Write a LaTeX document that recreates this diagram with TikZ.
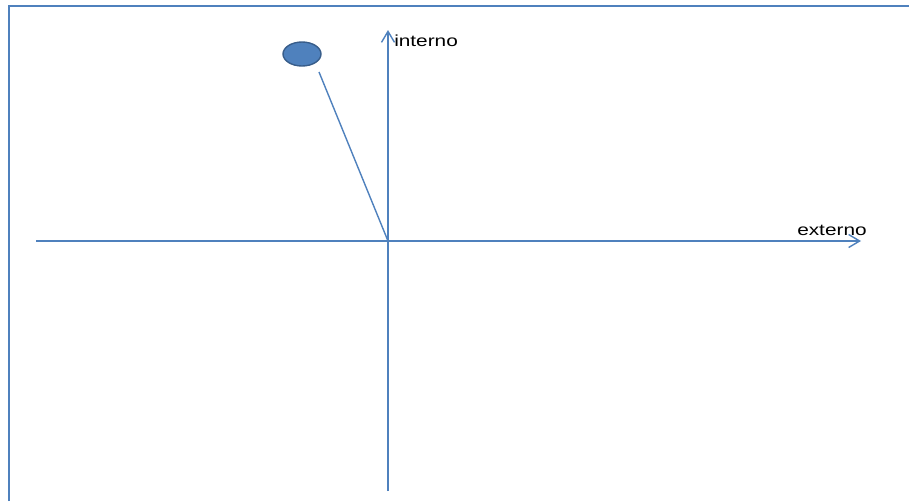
\documentclass[tikz,border=0pt]{standalone}
\usepackage{fontspec}
\setmainfont{Liberation Sans}
\usetikzlibrary{arrows.meta,shapes.geometric}
\definecolor{axisblue}{RGB}{79,129,189}
\definecolor{darkblue}{RGB}{56,93,138}
\begin{document}
\begin{tikzpicture}[x=1pt,y=-1pt,
  axisline/.style={draw=axisblue,line width=1.4pt,-{Straight Barb[length=11pt,width=13pt,line width=1.4pt]}},
  plainline/.style={draw=axisblue,line width=1.4pt},
  framestyle/.style={draw=axisblue,line width=2pt},
  lbl/.style={font=\fontsize{16}{18}\selectfont,inner sep=0pt,anchor=base west,xscale=1.3,transform shape}]
\useasboundingbox (0,0) rectangle (909,501);
\fill[white] (0,0) rectangle (909,501);
\draw[framestyle] (9,501) -- (9,6) -- (909,6);
\coordinate (left) at (36,241);
\coordinate (right) at (861,241);
\coordinate (bottom) at (388,491);
\coordinate (top) at (388,30);
\coordinate (origin) at (388,241);
\draw[axisline] (left) -- (right);
\draw[axisline] (bottom) -- (top);
\node[ellipse,draw=darkblue,line width=1.4pt,fill=axisblue,minimum width=38pt,minimum height=24pt,inner sep=0pt] (ball) at (302,54) {};
\coordinate (stickend) at (319,72);
\draw[plainline] (stickend) -- (origin);
\node[lbl] (interno) at (394,46) {interno};
\node[lbl] (externo) at (797,235) {externo};
\end{tikzpicture}
\end{document}
